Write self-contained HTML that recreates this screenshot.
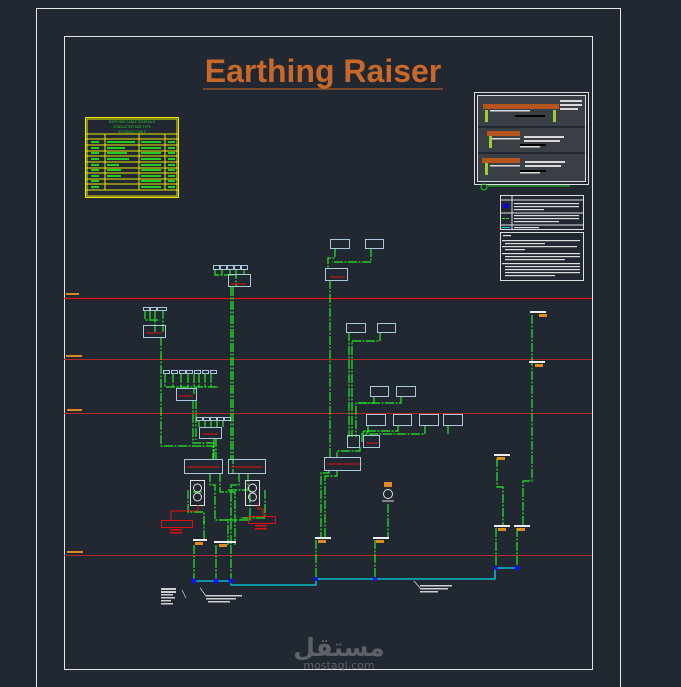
<!DOCTYPE html>
<html><head><meta charset="utf-8"><style>
html,body{margin:0;padding:0;background:#222831;}
svg{display:block}
</style></head><body>
<svg width="681" height="687" viewBox="0 0 681 687" xmlns="http://www.w3.org/2000/svg" font-family="Liberation Sans, sans-serif">
<rect width="681" height="687" fill="#222831"/>
<path d="M36.5 687 V8.5 H620.5 V687" fill="none" stroke="#e6e6e6" stroke-width="1"/>
<rect x="64.5" y="36.5" width="528" height="633" fill="none" stroke="#e6e6e6" stroke-width="1"/>

<text x="323" y="82" text-anchor="middle" font-size="32" font-weight="bold" fill="#c8682a">Earthing Raiser</text>
<line x1="203" y1="89" x2="443" y2="89" stroke="#c8682a" stroke-width="1"/>

<g stroke="#e8e800" fill="none" stroke-width="1">
<rect x="85.5" y="117.5" width="93" height="80"/>
<rect x="87" y="119" width="90" height="77"/>
<line x1="86" y1="134" x2="178" y2="134"/>
<line x1="86" y1="139" x2="178" y2="139"/>
<line x1="86" y1="145" x2="178" y2="145"/>
<line x1="86" y1="151" x2="178" y2="151"/>
<line x1="86" y1="156" x2="178" y2="156"/>
<line x1="86" y1="162" x2="178" y2="162"/>
<line x1="86" y1="168" x2="178" y2="168"/>
<line x1="86" y1="173" x2="178" y2="173"/>
<line x1="86" y1="179" x2="178" y2="179"/>
<line x1="86" y1="184" x2="178" y2="184"/>
<line x1="86" y1="190" x2="178" y2="190"/>
<line x1="105" y1="134" x2="105" y2="190"/>
<line x1="139" y1="134" x2="139" y2="190"/>
<line x1="165" y1="134" x2="165" y2="190"/>
</g>
<g fill="#22cc22" font-size="3.2">
<text x="132" y="123" text-anchor="middle">EARTHING CABLE SCHEDULE</text>
<text x="132" y="128" text-anchor="middle">CONDUCTOR SIZE TYPE</text>
<text x="132" y="133" text-anchor="middle">SCHEDULE TABLE</text>
</g>
<g fill="#22cc22">
<rect x="91" y="141" width="8" height="2"/><rect x="107" y="141" width="28" height="2"/><rect x="141" y="141" width="20" height="2"/><rect x="168" y="141" width="7" height="2"/>
<rect x="91" y="147" width="8" height="2"/><rect x="107" y="147" width="18" height="2"/><rect x="141" y="147" width="20" height="2"/><rect x="168" y="147" width="7" height="2"/>
<rect x="91" y="152" width="8" height="2"/><rect x="107" y="152" width="20" height="2"/><rect x="141" y="152" width="20" height="2"/><rect x="168" y="152" width="7" height="2"/>
<rect x="91" y="158" width="8" height="2"/><rect x="107" y="158" width="22" height="2"/><rect x="141" y="158" width="20" height="2"/><rect x="168" y="158" width="7" height="2"/>
<rect x="91" y="164" width="8" height="2"/><rect x="107" y="164" width="12" height="2"/><rect x="141" y="164" width="20" height="2"/><rect x="168" y="164" width="7" height="2"/>
<rect x="91" y="169" width="8" height="2"/><rect x="107" y="169" width="14" height="2"/><rect x="141" y="169" width="20" height="2"/><rect x="168" y="169" width="7" height="2"/>
<rect x="91" y="175" width="8" height="2"/><rect x="107" y="175" width="14" height="2"/><rect x="141" y="175" width="20" height="2"/><rect x="168" y="175" width="7" height="2"/>
<rect x="91" y="180" width="8" height="2"/><rect x="141" y="180" width="20" height="2"/><rect x="168" y="180" width="7" height="2"/>
<rect x="91" y="186" width="8" height="2"/><rect x="141" y="186" width="20" height="2"/><rect x="168" y="186" width="7" height="2"/>
</g>

<rect x="474.5" y="92.5" width="114" height="92" fill="none" stroke="#dddddd"/>
<rect x="477.5" y="95.5" width="108" height="86" fill="none" stroke="#dddddd"/>
<g fill="#3a3f46">
<rect x="478" y="96" width="107" height="30"/><rect x="478" y="128" width="107" height="24"/><rect x="478" y="154" width="107" height="27"/>
</g>
<g fill="#b5541c">
<rect x="483" y="104" width="76" height="5"/><rect x="487" y="131" width="33" height="5"/><rect x="482" y="158" width="38" height="5"/>
</g>
<g fill="#d8d8d8">
<rect x="490" y="110" width="40" height="1.5"/><rect x="560" y="100" width="22" height="2"/><rect x="560" y="104" width="22" height="2"/><rect x="560" y="108" width="18" height="2"/>
<rect x="490" y="138" width="30" height="1.5"/><rect x="524" y="136" width="40" height="2"/><rect x="524" y="140" width="36" height="2"/><rect x="520" y="146" width="20" height="1.5"/>
<rect x="490" y="165" width="30" height="1.5"/><rect x="525" y="161" width="40" height="2"/><rect x="525" y="165" width="36" height="2"/><rect x="520" y="172" width="20" height="1.5"/>
</g>
<g fill="#000">
<rect x="515" y="115" width="30" height="2"/><rect x="520" y="144" width="26" height="2"/><rect x="520" y="170" width="26" height="2"/>
</g>
<g fill="#9acd32"><rect x="485" y="110" width="3" height="12"/><rect x="553" y="110" width="3" height="12"/><rect x="489" y="136" width="3" height="12"/><rect x="485" y="163" width="3" height="12"/></g>
<circle cx="484" cy="187" r="3" fill="none" stroke="#22cc22"/>
<line x1="488" y1="186" x2="570" y2="186" stroke="#22cc22"/>

<rect x="500.5" y="195.5" width="83" height="34" fill="none" stroke="#dddddd"/>
<line x1="500" y1="200" x2="584" y2="200" stroke="#dddddd"/>
<line x1="512" y1="196" x2="512" y2="230" stroke="#dddddd"/>
<line x1="500" y1="213" x2="584" y2="213" stroke="#dddddd"/>
<line x1="500" y1="225" x2="584" y2="225" stroke="#dddddd"/>
<circle cx="506" cy="206" r="2.5" fill="#0000ff"/>
<line x1="502" y1="218.5" x2="510" y2="218.5" stroke="#22ee22" stroke-dasharray="3 1"/>
<line x1="502" y1="227.5" x2="510" y2="227.5" stroke="#00ccee"/>
<g fill="#ddd"><rect x="514" y="203" width="65" height="1.2"/><rect x="514" y="206" width="65" height="1.2"/><rect x="514" y="209" width="30" height="1.2"/>
<rect x="514" y="215" width="65" height="1.2"/><rect x="514" y="218" width="65" height="1.2"/><rect x="514" y="221" width="45" height="1.2"/><rect x="514" y="227" width="25" height="1.2"/></g>
<rect x="500.5" y="232.5" width="83" height="48" fill="none" stroke="#dddddd"/>
<g fill="#ddd"><rect x="503" y="235" width="8" height="1.2"/>
<rect x="502" y="240" width="78" height="1.2"/><rect x="505" y="243" width="40" height="1.2"/><rect x="502" y="246" width="75" height="1.2"/><rect x="505" y="249" width="20" height="1.2"/>
<rect x="502" y="253" width="78" height="1.2"/><rect x="505" y="256" width="75" height="1.2"/><rect x="505" y="259" width="60" height="1.2"/>
<rect x="502" y="263" width="78" height="1.2"/><rect x="505" y="266" width="75" height="1.2"/><rect x="505" y="269" width="75" height="1.2"/><rect x="505" y="272" width="75" height="1.2"/><rect x="505" y="275" width="50" height="1.2"/></g>

<line x1="64" y1="298.5" x2="592" y2="298.5" stroke="#e01010" stroke-width="1.3"/>
<line x1="64" y1="359.5" x2="592" y2="359.5" stroke="#b02a2a" stroke-width="1"/>
<line x1="64" y1="413.5" x2="592" y2="413.5" stroke="#b02a2a" stroke-width="1"/>
<line x1="64" y1="555.5" x2="592" y2="555.5" stroke="#b02a2a" stroke-width="1"/>
<g fill="#d98a1a"><rect x="66" y="293" width="13" height="2"/><rect x="66" y="355" width="16" height="2"/><rect x="67" y="409" width="15" height="2"/><rect x="67" y="551" width="16" height="2"/></g>

<g stroke="#22ee22" stroke-width="1.2" fill="none" stroke-dasharray="9 1.5 2 1.5">
<path d="M233 287 V473"/><path d="M231 287 V459"/>
<path d="M215 270 V275 H238 M222 270 V275 M230 270 V275 M236 270 V287 M244 270 V275"/>
<path d="M161 337 V446 H213 V459"/><path d="M145 310 V320 H160 M150 310 V320 M155 310 V332"/><path d="M163 310 V332"/>
<path d="M165 374 V387 H219 M173 374 V387 M181 374 V387 M188 374 V387 M194 374 V394 M199 374 V387 M205 374 V387 M211 374 V387"/>
<path d="M193 400 V443 H214 V459"/><path d="M196 400 V440"/>
<path d="M199 421 V427 M205 421 V427 M211 421 V427 M217 421 V427 M223 421 V427"/>
<path d="M214 438 V448"/><path d="M216 438 V459"/>
<path d="M210 473 V485 H215 V520 H228 V545"/><path d="M220 473 V492 H235 V545"/>
<path d="M239 473 V485 H231 V545"/><path d="M248 473 V490 H228"/>
<path d="M225 520 H250 V489"/><path d="M265 490 V518 H240"/>
<path d="M188 490 V512 H204 V540"/><path d="M205 522 H203"/>
<path d="M194 545 V581"/><path d="M216 545 V581"/><path d="M231 545 V581"/>
<path d="M202 492 H192"/>
<path d="M335 248 V258 H328 V268"/><path d="M371 248 V262 H332"/><path d="M330 280 V457"/>
<path d="M349 332 V437"/><path d="M380 332 V341 H352 V437"/>
<path d="M374 396 V403 H356 V437"/><path d="M401 396 V403 H358"/>
<path d="M368 425 V432 H362 V442"/><path d="M398 425 V431 H362"/><path d="M425 425 V434 H362"/><path d="M448 425 V434"/>
<path d="M360 447 V451 H337 V457"/>
<path d="M329 470 V473 H321 V538"/><path d="M337 470 V476 H325 V538"/>
<path d="M316 540 V579"/>
<path d="M388 504 V538"/><path d="M375 540 V579"/>
<path d="M532 315 V481 H523 V526"/><path d="M497 458 V487 H503 V526"/>
<path d="M496 528 V568"/><path d="M517 528 V568"/>
</g>

<g stroke="#a9c8dc" stroke-width="1" fill="none">
<rect x="213.5" y="265.5" width="6" height="4"/><rect x="220.5" y="265.5" width="6" height="4"/><rect x="227.5" y="265.5" width="6" height="4"/><rect x="234.5" y="265.5" width="6" height="4"/><rect x="241.5" y="265.5" width="6" height="4"/>
<rect x="228.5" y="274.5" width="22" height="12"/>
<rect x="143.5" y="307.5" width="6" height="3"/><rect x="150.5" y="307.5" width="6" height="3"/><rect x="157.5" y="307.5" width="9" height="3"/>
<rect x="143.5" y="325.5" width="22" height="12"/>
<rect x="163.5" y="370.5" width="6" height="3"/><rect x="171.5" y="370.5" width="6" height="3"/><rect x="179.5" y="370.5" width="6" height="3"/><rect x="186.5" y="370.5" width="6" height="3"/><rect x="194.5" y="370.5" width="6" height="3"/><rect x="202.5" y="370.5" width="6" height="3"/><rect x="210.5" y="370.5" width="6" height="3"/>
<rect x="176.5" y="388.5" width="20" height="12"/>
<rect x="196.5" y="417.5" width="6" height="3"/><rect x="203.5" y="417.5" width="6" height="3"/><rect x="210.5" y="417.5" width="6" height="3"/><rect x="217.5" y="417.5" width="6" height="3"/><rect x="224.5" y="417.5" width="6" height="3"/>
<rect x="199.5" y="427.5" width="22" height="11"/>
<rect x="184.5" y="459.5" width="38" height="14"/><rect x="228.5" y="459.5" width="37" height="14"/>
<rect x="190.5" y="480.5" width="14" height="25" stroke="#e0e0e0"/><rect x="245.5" y="480.5" width="14" height="25" stroke="#e0e0e0"/>
<rect x="330.5" y="239.5" width="19" height="9"/><rect x="365.5" y="239.5" width="18" height="9"/>
<rect x="325.5" y="268.5" width="22" height="12"/>
<rect x="346.5" y="323.5" width="19" height="9"/><rect x="377.5" y="323.5" width="18" height="9"/>
<rect x="370.5" y="386.5" width="18" height="10"/><rect x="396.5" y="386.5" width="19" height="10"/>
<rect x="366.5" y="414.5" width="19" height="11"/><rect x="393.5" y="414.5" width="18" height="11"/><rect x="419.5" y="414.5" width="19" height="11"/><rect x="443.5" y="414.5" width="19" height="11"/>
<rect x="347.5" y="435.5" width="12" height="12"/><rect x="363.5" y="435.5" width="16" height="12"/>
<rect x="324.5" y="457.5" width="36" height="13"/>
</g>
<g stroke="#e0e0e0" fill="none">
<circle cx="197.5" cy="488" r="4"/><circle cx="197.5" cy="497" r="4"/><circle cx="252.5" cy="488" r="4"/><circle cx="252.5" cy="497" r="4"/>
<circle cx="388" cy="494" r="4.5"/><path d="M382 501 H394"/>
</g>
<g stroke="#e01010" fill="none">
<line x1="231" y1="284" x2="246" y2="284"/><line x1="146" y1="333" x2="162" y2="333"/><line x1="179" y1="396" x2="193" y2="396"/><line x1="202" y1="434" x2="218" y2="434"/>
<line x1="187" y1="467" x2="220" y2="467"/><line x1="231" y1="467" x2="263" y2="467"/>
<line x1="327" y1="464" x2="359" y2="464"/><line x1="366" y1="443" x2="378" y2="443"/><line x1="330" y1="277" x2="345" y2="277"/>
<rect x="161.5" y="520.5" width="31" height="7"/><rect x="248.5" y="516.5" width="27" height="7"/>
<path d="M171 520 V511 H198 V505"/><path d="M263 516 V509 H258 V503"/>
</g>
<g fill="#e01010"><rect x="170" y="529" width="12" height="1.5"/><rect x="170" y="532" width="12" height="1.5"/><rect x="255" y="525" width="12" height="1.5"/><rect x="255" y="528" width="12" height="1.5"/></g>
<g fill="#eeeeee">
<rect x="193" y="539" width="14" height="2"/><rect x="214" y="541" width="22" height="2"/><rect x="315" y="537" width="16" height="2"/><rect x="373" y="537" width="16" height="2"/>
<rect x="530" y="311" width="16" height="2"/><rect x="529" y="361" width="16" height="2"/><rect x="494" y="454" width="16" height="2"/><rect x="494" y="525" width="16" height="2"/><rect x="514" y="525" width="16" height="2"/>
</g>
<g fill="#cfcfcf">
<rect x="161" y="588" width="15" height="2"/><rect x="161" y="591" width="15" height="2"/><rect x="161" y="594" width="12" height="1.5"/><rect x="161" y="597" width="14" height="1.5"/><rect x="161" y="600" width="10" height="1.5"/><rect x="161" y="603" width="12" height="1.5"/>
<rect x="206" y="595" width="36" height="1.5"/><rect x="206" y="598" width="30" height="1.5"/><rect x="208" y="601" width="22" height="1.5"/>
<rect x="420" y="585" width="32" height="1.5"/><rect x="420" y="588" width="28" height="1.5"/><rect x="420" y="591" width="18" height="1.5"/>
</g>
<g fill="#e08a1a">
<rect x="195" y="542" width="8" height="3"/><rect x="219" y="544" width="8" height="3"/><rect x="318" y="540" width="8" height="3"/><rect x="376" y="540" width="8" height="3"/>
<rect x="539" y="314" width="8" height="3"/><rect x="535" y="364" width="8" height="3"/><rect x="497" y="457" width="8" height="3"/><rect x="498" y="528" width="8" height="3"/><rect x="517" y="528" width="8" height="3"/>
<rect x="384" y="482" width="8" height="5"/>
</g>
<path d="M194 581 H231 V585 H316 V579 H495 V568 H517" fill="none" stroke="#00d8e8" stroke-width="1.3"/>
<g stroke="#dddddd" stroke-width="0.7"><line x1="186" y1="598" x2="182" y2="590"/><line x1="206" y1="596" x2="200" y2="588"/><line x1="420" y1="588" x2="414" y2="581"/></g>
<g fill="#1010ff"><circle cx="194" cy="581" r="2.5"/><circle cx="216" cy="581" r="2.5"/><circle cx="231" cy="581" r="2.5"/><circle cx="316" cy="579" r="2"/><circle cx="375" cy="579" r="2"/><circle cx="496" cy="568" r="2"/><circle cx="517" cy="568" r="2.5"/></g>

<text x="339" y="656" text-anchor="middle" font-size="25" font-weight="bold" fill="#5e6166" font-family="DejaVu Sans, sans-serif">مستقل</text>
<text x="339" y="669" text-anchor="middle" font-size="11" fill="#5e6166" font-family="DejaVu Sans, sans-serif">mostaql.com</text>
</svg>
</body></html>
